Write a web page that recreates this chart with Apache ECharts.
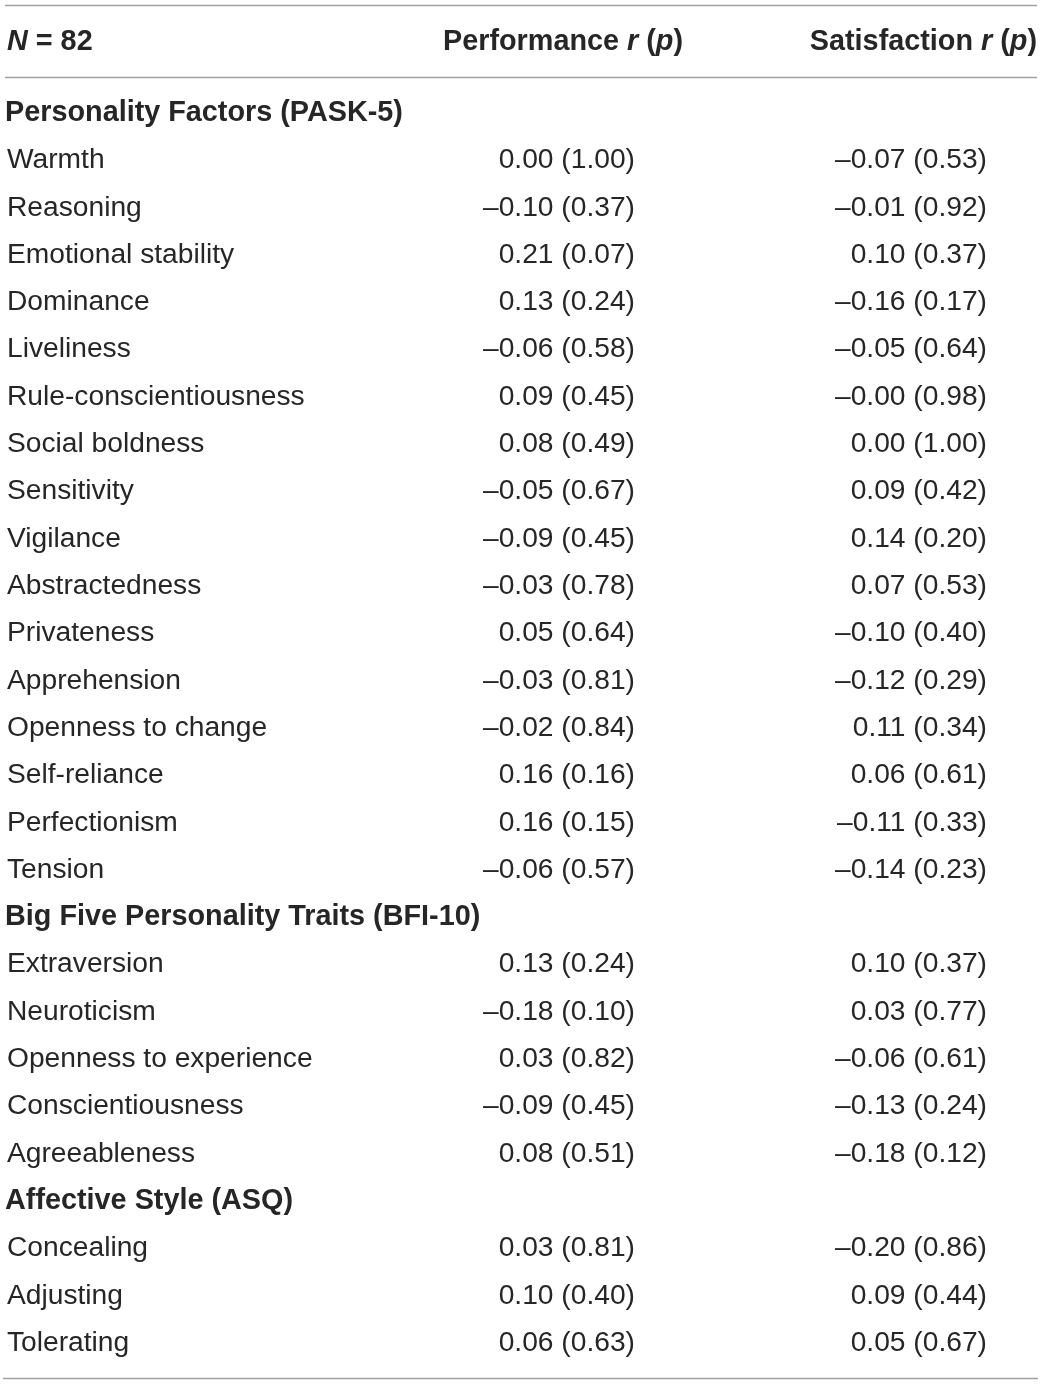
<!DOCTYPE html>
<html>
<head>
<meta charset="utf-8">
<script src="https://cdn.jsdelivr.net/npm/echarts@6/dist/echarts.min.js"></script>
<style>
  html, body { margin: 0; padding: 0; background: #fff; }
  #main { width: 1044px; height: 1384px; }
</style>
</head>
<body>
<div id="main"></div>
<script>
// rows of the table, top to bottom (see sectionRows for the headings)
var rowLabels = [
    'Personality Factors (PASK-5)',
    'Warmth', 'Reasoning', 'Emotional stability', 'Dominance', 'Liveliness',
    'Rule-conscientiousness', 'Social boldness', 'Sensitivity', 'Vigilance',
    'Abstractedness', 'Privateness', 'Apprehension', 'Openness to change',
    'Self-reliance', 'Perfectionism', 'Tension',
    'Big Five Personality Traits (BFI-10)',
    'Extraversion', 'Neuroticism', 'Openness to experience', 'Conscientiousness',
    'Agreeableness',
    'Affective Style (ASQ)',
    'Concealing', 'Adjusting', 'Tolerating'
];
var sectionRows = [0, 17, 23];

// values for the non-section rows, in order
var perfR = [0.00, -0.10, 0.21, 0.13, -0.06, 0.09, 0.08, -0.05, -0.09, -0.03, 0.05, -0.03, -0.02, 0.16, 0.16, -0.06,
             0.13, -0.18, 0.03, -0.09, 0.08,
             0.03, 0.10, 0.06];
var perfP = [1.00, 0.37, 0.07, 0.24, 0.58, 0.45, 0.49, 0.67, 0.45, 0.78, 0.64, 0.81, 0.84, 0.16, 0.15, 0.57,
             0.24, 0.10, 0.82, 0.45, 0.51,
             0.81, 0.40, 0.63];
var satR = [-0.07, -0.01, 0.10, -0.16, -0.05, -0, 0.00, 0.09, 0.14, 0.07, -0.10, -0.12, 0.11, 0.06, -0.11, -0.14,
            0.10, 0.03, -0.06, -0.13, -0.18,
            -0.20, 0.09, 0.05];
var satP = [0.53, 0.92, 0.37, 0.17, 0.64, 0.98, 1.00, 0.42, 0.20, 0.53, 0.40, 0.29, 0.34, 0.61, 0.33, 0.23,
            0.37, 0.77, 0.61, 0.24, 0.12,
            0.86, 0.44, 0.67];

var FONT = '"Liberation Sans"';
var INK = '#262626';
var RULE = '#a0a0a0';
var BODY = '28.2px ' + FONT;
var BOLD = 'bold 28.8px ' + FONT;
var BOLDI = 'italic bold 28.8px ' + FONT;
var colLabelX = 7, colPerfX = 635, colSatX = 987;

function fmt(v) {
    var neg = v < 0 || Object.is(v, -0);
    return (neg ? '\u2013' : '') + Math.abs(v).toFixed(2);
}

var tableData = [];
var k = 0;
rowLabels.forEach(function (lab, i) {
    if (sectionRows.indexOf(i) >= 0) {
        tableData.push([i, lab, '', '', 1]);
    } else {
        tableData.push([i, lab,
            fmt(perfR[k]) + ' (' + perfP[k].toFixed(2) + ')',
            fmt(satR[k]) + ' (' + satP[k].toFixed(2) + ')', 0]);
        k++;
    }
});

var chart = echarts.init(document.getElementById('main'));

var headRich = {
    i: { font: BOLDI, fill: INK },
    b: { font: BOLD, fill: INK }
};

var option = {
    backgroundColor: '#fff',
    animation: false,
    grid: { left: 0, right: 0, top: 89.5, bottom: 17.2 },
    xAxis: { type: 'value', min: 0, max: 1044, show: false },
    yAxis: {
        type: 'category', inverse: true, show: false,
        data: rowLabels.map(function (l, i) { return i; })
    },
    series: [{
        type: 'custom',
        data: tableData,
        renderItem: function (params, api) {
            var row = api.value(0);
            var y = api.coord([0, row])[1];
            var d = tableData[params.dataIndex];
            var sec = d[4] === 1;
            var kids = [{
                type: 'text',
                style: {
                    x: sec ? colLabelX - 2 : colLabelX, y: y, text: d[1],
                    fill: INK, font: sec ? BOLD : BODY,
                    textAlign: 'left', textVerticalAlign: 'middle'
                }
            }];
            if (!sec) {
                kids.push({
                    type: 'text',
                    style: { x: colPerfX, y: y, text: d[2], fill: INK, font: BODY,
                        textAlign: 'right', textVerticalAlign: 'middle' }
                });
                kids.push({
                    type: 'text',
                    style: { x: colSatX, y: y, text: d[3], fill: INK, font: BODY,
                        textAlign: 'right', textVerticalAlign: 'middle' }
                });
            }
            return { type: 'group', children: kids };
        }
    }],
    graphic: [
        { type: 'line', shape: { x1: 5, y1: 5.5, x2: 1037, y2: 5.5 }, style: { stroke: RULE, lineWidth: 1.5 } },
        { type: 'line', shape: { x1: 5, y1: 77.5, x2: 1037, y2: 77.5 }, style: { stroke: RULE, lineWidth: 1.5 } },
        { type: 'line', shape: { x1: 3, y1: 1378.5, x2: 1038, y2: 1378.5 }, style: { stroke: RULE, lineWidth: 1.5 } },
        {
            type: 'text',
            style: {
                x: 7, y: 42, textAlign: 'left', textVerticalAlign: 'middle',
                text: '{i|N}{b| = 82}', rich: headRich
            }
        },
        {
            type: 'text',
            style: {
                x: 683, y: 42, textAlign: 'right', textVerticalAlign: 'middle',
                text: '{b|Performance }{i|r}{b| (}{i|p}{b|)}', rich: headRich
            }
        },
        {
            type: 'text',
            style: {
                x: 1037, y: 42, textAlign: 'right', textVerticalAlign: 'middle',
                text: '{b|Satisfaction }{i|r}{b| (}{i|p}{b|)}', rich: headRich
            }
        }
    ]
};

chart.setOption(option);
</script>
</body>
</html>
